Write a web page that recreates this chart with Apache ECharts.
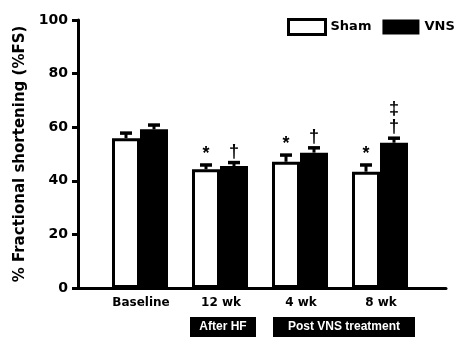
<!DOCTYPE html>
<html><head><meta charset="utf-8">
<script src="https://cdn.jsdelivr.net/npm/echarts@6/dist/echarts.min.js"></script>
<style>html,body{margin:0;padding:0;background:#fff}#c{width:467px;height:338px}</style>
</head><body><div id="c"></div>
<script>
var categories = ['Baseline', '12 wk', '4 wk', '8 wk'];
var shamMean = [55.9, 44.3, 47.1, 43.4];
var shamErr  = [1.9, 1.6, 2.5, 2.5];
var vnsMean  = [59.2, 45.5, 50.5, 54.2];
var vnsErr   = [1.6, 1.3, 1.8, 1.7];
var shamMarks = ['', '*', '*', '*'];
var vnsMarks  = ['', '†', '†', '‡\n†'];
var yTicks = [0, 20, 40, 60, 80, 100];

var FONT = '"Liberation Sans", Arial, sans-serif';
var HFONT = '"DejaVu Sans", sans-serif';
var BAR_W = 28;

var chart = echarts.init(document.getElementById('c'));

function errSeries(name, mean, err, marks, side) {
  return {
    type: 'custom', name: name + '_err', silent: true, z: 5,
    data: mean.map(function (m, i) { return [i + 1, m, err[i]]; }),
    encode: { x: 0, y: 1 },
    renderItem: function (params, api) {
      var i = params.dataIndex;
      var x = api.value(0), m = api.value(1), e = api.value(2);
      var p0 = api.coord([x, m]);
      var p1 = api.coord([x, m + e]);
      var cx = p0[0] + side * BAR_W / 2;
      var children = [
        { type: 'line', shape: { x1: cx, y1: p0[1], x2: cx, y2: p1[1] }, style: { stroke: '#000', lineWidth: 3 } },
        { type: 'line', shape: { x1: cx - 6, y1: p1[1], x2: cx + 6, y2: p1[1] }, style: { stroke: '#000', lineWidth: 3.5 } }
      ];
      if (marks[i]) {
        children.push({ type: 'text', style: { text: marks[i], x: cx, y: p1[1] - 2, align: 'center', verticalAlign: 'bottom', font: 'bold 18px ' + FONT, lineHeight: 18, fill: '#000' } });
      }
      return { type: 'group', children: children };
    }
  };
}

var option = {
  animation: false,
  grid: { left: 78, right: 21, top: 20, bottom: 50 },
  legend: {
    left: 287, top: 18, padding: 0, icon: 'rect', itemWidth: 37, itemHeight: 15, itemGap: 11,
    textStyle: { fontFamily: HFONT, fontWeight: 'bold', fontSize: 13, color: '#000' },
    data: [
      { name: 'Sham', itemStyle: { color: '#fff', borderColor: '#000', borderWidth: 3 } },
      { name: 'VNS', itemStyle: { color: '#000', borderColor: '#000', borderWidth: 0 } }
    ]
  },
  xAxis: {
    type: 'value', min: 0.225, max: 4.825,
    axisLine: { show: true, onZero: false, lineStyle: { color: '#000', width: 3 } },
    axisTick: { show: false }, axisLabel: { show: false }, splitLine: { show: false }
  },
  yAxis: {
    type: 'value', min: 0, max: 100, interval: 20,
    name: '% Fractional shortening (%FS)', nameLocation: 'middle', nameGap: 45,
    nameTextStyle: { fontFamily: HFONT, fontWeight: 'bold', fontSize: 15, color: '#000' },
    axisLine: { show: true, lineStyle: { color: '#000', width: 3 } },
    axisTick: { show: true, length: 6, lineStyle: { color: '#000', width: 3 } },
    axisLabel: { margin: 10, fontFamily: HFONT, fontWeight: 'bold', fontSize: 14, color: '#000',
      formatter: function (v) { return yTicks.indexOf(v) >= 0 ? String(v) : ''; } },
    splitLine: { show: false }
  },
  series: [
    { name: 'Sham', type: 'bar', barWidth: BAR_W, barGap: '0%',
      data: shamMean.map(function (v, i) { return [i + 1, v]; }),
      itemStyle: { color: '#fff', borderColor: '#000', borderWidth: 3 } },
    { name: 'VNS', type: 'bar', barWidth: BAR_W, barGap: '0%',
      data: vnsMean.map(function (v, i) { return [i + 1, v]; }),
      itemStyle: { color: '#000', borderColor: '#000', borderWidth: 3 } },
    errSeries('Sham', shamMean, shamErr, shamMarks, -1),
    errSeries('VNS', vnsMean, vnsErr, vnsMarks, 1),
    {
      type: 'custom', name: 'catLabels', silent: true,
      data: categories.map(function (c, i) { return [i + 1, 0]; }),
      encode: { x: 0, y: 1 },
      renderItem: function (params, api) {
        var p = api.coord([api.value(0), 0]);
        return { type: 'text', style: { text: categories[params.dataIndex], x: p[0] + 1, y: p[1] + 15, align: 'center', verticalAlign: 'middle', font: 'bold 12px ' + HFONT, fill: '#000' } };
      }
    }
  ],
  graphic: [
    { type: 'group', left: 190, top: 317, children: [
      { type: 'rect', shape: { x: 0, y: 0, width: 66, height: 20 }, style: { fill: '#000' } },
      { type: 'text', style: { text: 'After HF', x: 33, y: 10, align: 'center', verticalAlign: 'middle', font: 'bold 12px ' + FONT, fill: '#fff' } }
    ] },
    { type: 'group', left: 273, top: 317, children: [
      { type: 'rect', shape: { x: 0, y: 0, width: 142, height: 20 }, style: { fill: '#000' } },
      { type: 'text', style: { text: 'Post VNS treatment', x: 71, y: 10, align: 'center', verticalAlign: 'middle', font: 'bold 12px ' + FONT, fill: '#fff' } }
    ] }
  ]
};
chart.setOption(option);
</script></body></html>
